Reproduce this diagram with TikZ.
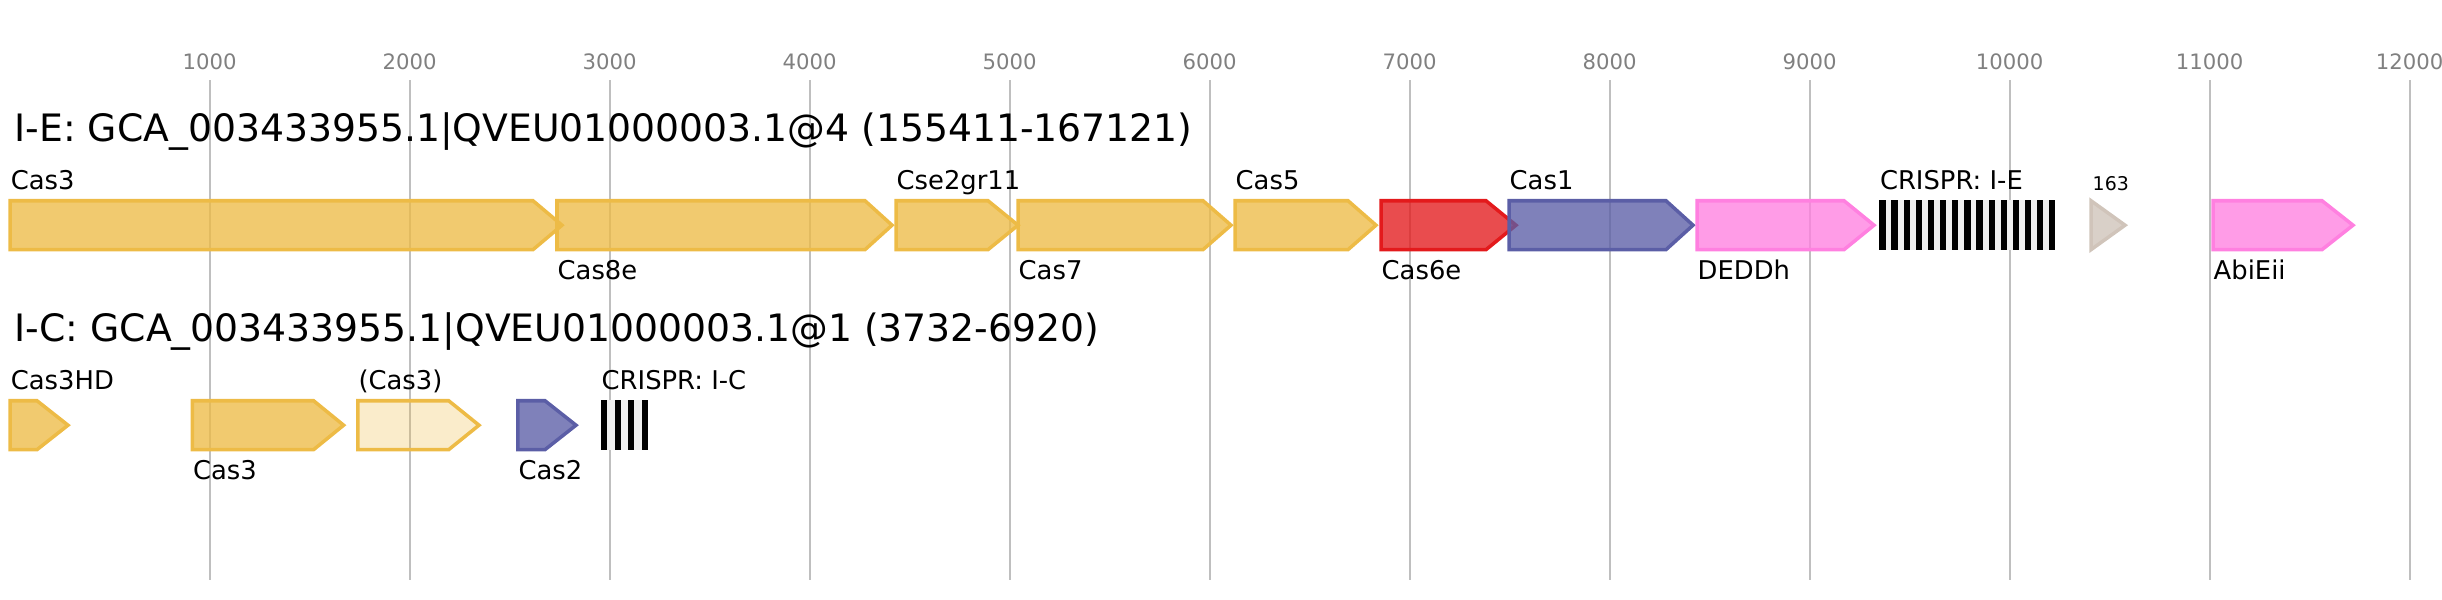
\documentclass[tikz,border=0pt]{standalone}
\usepackage{fontspec}
\setmainfont{DejaVu Sans}
\usepackage{tikz}
\usetikzlibrary{positioning}

\definecolor{casyellow}{HTML}{EDBB46}
\definecolor{casred}{HTML}{E31A1C}
\definecolor{casblue}{HTML}{5B5EA6}
\definecolor{caspink}{HTML}{FF80E0}
\definecolor{castan}{HTML}{D0C4BA}
\definecolor{gridgray}{HTML}{BFBFBF}
\definecolor{tickgray}{HTML}{808080}
\definecolor{spacergray}{HTML}{EFEFEF}

\tikzset{
  gene/.style={line width=1pt, fill opacity=0.78},
  yellowgene/.style={gene, draw=casyellow, fill=casyellow},
  paleyellowgene/.style={gene, draw=casyellow, fill=casyellow, fill opacity=0.28},
  redgene/.style={gene, draw=casred, fill=casred},
  bluegene/.style={gene, draw=casblue, fill=casblue},
  pinkgene/.style={gene, draw=caspink, fill=caspink},
  tangene/.style={gene, draw=castan, fill=castan, fill opacity=0.8},
  title/.style={anchor=base west, inner sep=0pt, font=\fontsize{10.73}{12}\selectfont},
  genelabel/.style={anchor=base west, inner sep=0pt, font=\fontsize{7.34}{9}\selectfont},
  ticklabel/.style={anchor=base, inner sep=0pt, text=tickgray, font=\fontsize{6.03}{7}\selectfont}
}

% style, left, body end, tip, top
\newcommand{\genearrow}[5]{\draw[#1] (#2,#5) -- (#3,#5) -- (#4,#5+24.45) -- (#3,#5+48.9) -- (#2,#5+48.9) -- cycle;}
% left, right, top, bars, period
\newcommand{\crisprarray}[5]{
  \fill[spacergray] (#1,#3) rectangle (#2,#3+50);
  \foreach \i in {1,...,#4} \fill[black] ({#1+(\i-1)*#5},#3) rectangle ++(6.2,50);
}

\begin{document}
\begin{tikzpicture}[x=0.01cm, y=-0.01cm]
  \useasboundingbox (0,0) rectangle (2442,600);

  \foreach \k in {1,...,12} {
    \draw[gridgray, line width=0.65pt] (9.7+200*\k,80) -- (9.7+200*\k,580);
    \node[ticklabel] (tick\k) at (9.7+200*\k,70) {\k000};
  }

  \node[title] (titleIE) at (14,141) {I-E: GCA\_003433955.1|QVEU01000003.1@4 (155411-167121)};
  \node[title] (titleIC) at (14,341) {I-C: GCA\_003433955.1|QVEU01000003.1@1 (3732-6920)};

  \genearrow{yellowgene}{10.2}{533}{562}{200.75}
  \genearrow{yellowgene}{557}{865}{892}{200.75}
  \genearrow{yellowgene}{896}{988}{1018}{200.75}
  \genearrow{yellowgene}{1018}{1203}{1231}{200.75}
  \genearrow{yellowgene}{1235}{1348}{1376}{200.75}
  \genearrow{redgene}{1381}{1486}{1516}{200.75}
  \genearrow{bluegene}{1509}{1666}{1693}{200.75}
  \genearrow{pinkgene}{1697}{1844}{1874}{200.75}
  \crisprarray{1879.3}{2055.3}{200}{15}{12.14}
  \genearrow{tangene}{2091}{2091}{2125}{200.75}
  \genearrow{pinkgene}{2213}{2322}{2353}{200.75}

  \node[genelabel] (cas3a) at (10.2,189.4) {Cas3};
  \node[genelabel] (cas8e) at (557,279.4) {Cas8e};
  \node[genelabel] (cse2) at (896,189.4) {Cse2gr11};
  \node[genelabel] (cas7) at (1018,279.4) {Cas7};
  \node[genelabel] (cas5) at (1235,189.4) {Cas5};
  \node[genelabel] (cas6e) at (1381,279.4) {Cas6e};
  \node[genelabel] (cas1) at (1509,189.4) {Cas1};
  \node[genelabel] (deddh) at (1697,279.4) {DEDDh};
  \node[genelabel] (crisprIE) at (1879.3,189.4) {CRISPR: I-E};
  \node[genelabel, font=\fontsize{5.38}{6}\selectfont] (orf163) at (2092,190) {163};
  \node[genelabel] (abieii) at (2213,279.4) {AbiEii};

  \genearrow{yellowgene}{10.2}{37}{68}{400.75}
  \genearrow{yellowgene}{192.4}{313.6}{343.6}{400.75}
  \genearrow{paleyellowgene}{357.8}{448.7}{479}{400.75}
  \genearrow{bluegene}{517.8}{545}{576}{400.75}
  \crisprarray{601}{647.7}{400}{4}{13.5}

  \node[genelabel] (cas3hd) at (10.2,389.6) {Cas3HD};
  \node[genelabel] (cas3b) at (192.4,479.5) {Cas3};
  \node[genelabel] (cas3c) at (357.8,389.6) {(Cas3)};
  \node[genelabel] (cas2) at (517.8,479.5) {Cas2};
  \node[genelabel] (crisprIC) at (601,389.6) {CRISPR: I-C};
\end{tikzpicture}
\end{document}
